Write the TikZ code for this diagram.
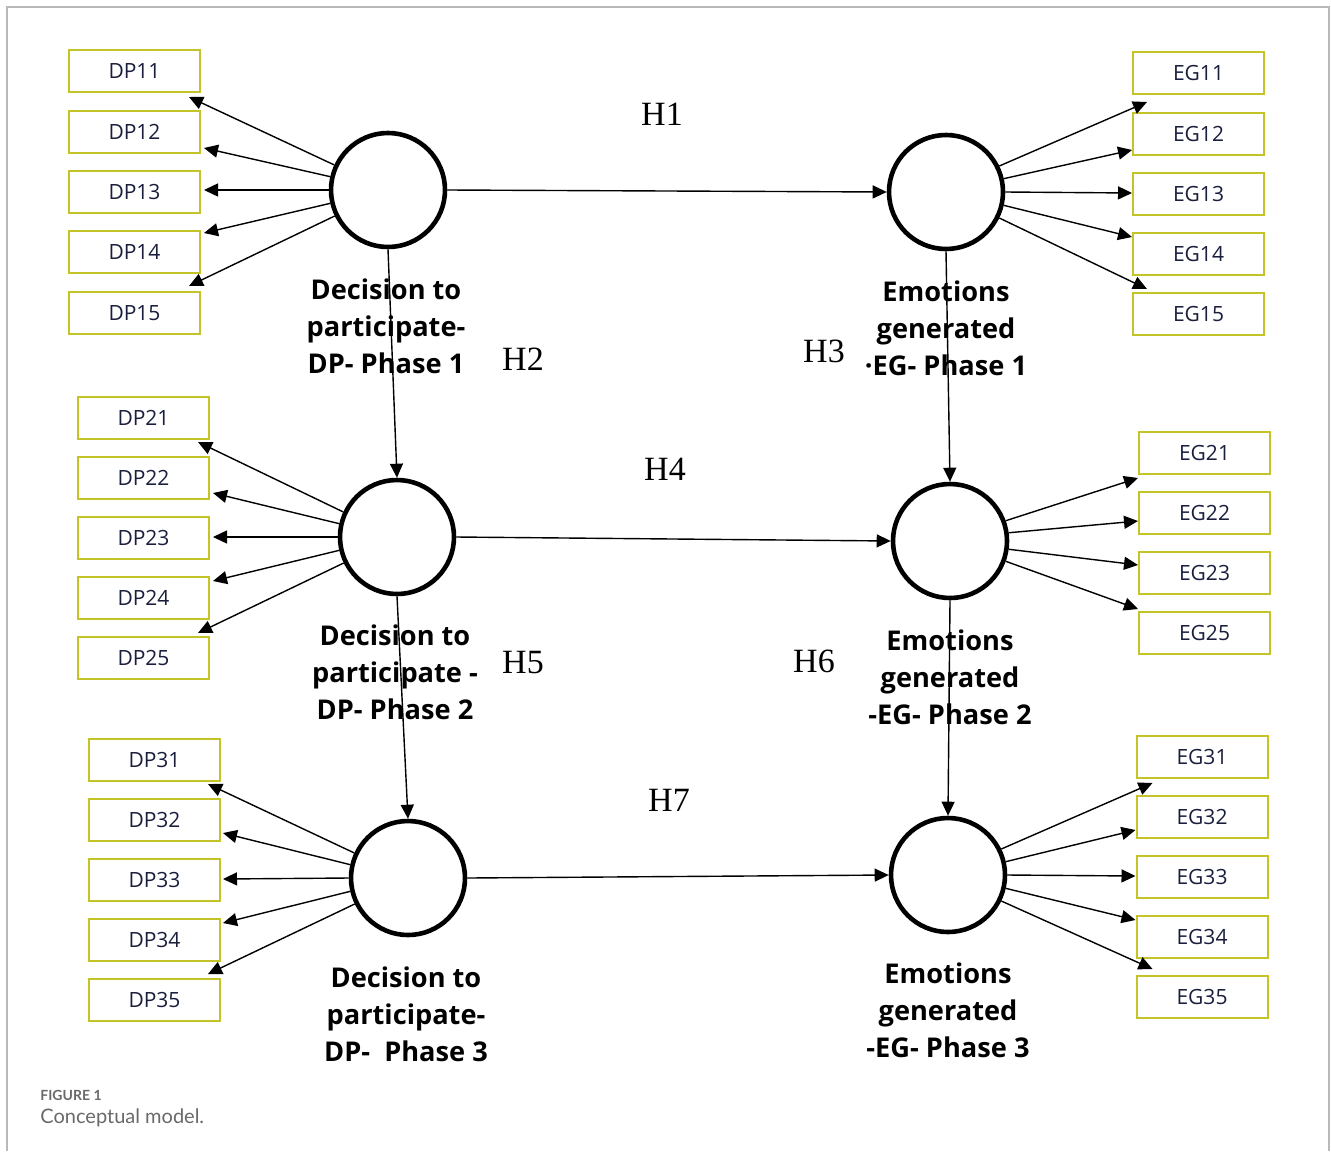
\documentclass[tikz,border=0pt]{standalone}
\usepackage{fontspec}
\setmainfont{Open Sans}
\newfontfamily\hfont{Liberation Serif}
\newfontfamily\capfont{Lato}
\usetikzlibrary{arrows.meta,calc}
\definecolor{boxc}{RGB}{196,196,40}
\definecolor{txtc}{RGB}{25,30,60}
\definecolor{framec}{RGB}{185,185,185}
\definecolor{capc}{RGB}{105,105,105}
\begin{document}
\begin{tikzpicture}[x=0.5pt,y=-0.5pt,
 obs/.style={draw=boxc,line width=1pt,minimum width=65.5pt,minimum height=21pt,inner sep=0pt,font=\fontsize{10.5}{12}\selectfont,text=txtc},
 lat/.style={circle,draw,line width=2.3pt,minimum size=57pt,inner sep=0pt},
 lbl/.style={align=center,font=\bfseries\fontsize{13.6}{18.5}\selectfont,text=black,inner sep=0pt},
 hyp/.style={font=\hfont\fontsize{17}{20}\selectfont,inner sep=0pt},
 arr/.style={line width=0.7pt,-{Triangle[length=7pt,width=6.5pt]}}]
\useasboundingbox (0,0) rectangle (1331,1151);
\draw[framec,line width=1pt] (7,1151) -- (7,7) -- (1329,7) -- (1329,1151);

% caption
\node[anchor=west,inner sep=0pt,text=capc,font=\capfont\bfseries\fontsize{7}{8}\selectfont] (figl) at (40,1095) {FIGURE 1};
\node[anchor=west,inner sep=0pt,text=capc,font=\capfont\fontsize{10}{12}\selectfont] (figc) at (40,1118) {Conceptual model.};

% latent variable labels
\node[lbl] (l1) at (386,326) {Decision to\\participate-\\DP- Phase 1};
\node[lbl] (l2) at (395,672) {Decision to\\participate -\\DP- Phase 2};
\node[lbl] (l3) at (406,1014) {Decision to\\participate-\\DP-\ \ Phase 3};
\node[lbl] (m1) at (946,328) {Emotions\\generated\\·EG- Phase 1};
\node[lbl] (m2) at (950,677) {Emotions\\generated\\-EG- Phase 2};
\node[lbl] (m3) at (948,1010) {Emotions\\generated\\-EG- Phase 3};

% hypothesis labels
\node[hyp] (h1) at (662,114) {H1};
\node[hyp] (h2) at (523,359) {H2};
\node[hyp] (h3) at (824,351) {H3};
\node[hyp] (h4) at (665,469) {H4};
\node[hyp] (h5) at (523,663) {H5};
\node[hyp] (h6) at (814,661) {H6};
\node[hyp] (h7) at (669,800) {H7};

% circles
\node[lat] (c1) at (388,190) {};
\node[lat] (c2) at (397,537) {};
\node[lat] (c3) at (408,878) {};
\node[lat] (e1) at (946,192) {};
\node[lat] (e2) at (950,541) {};
\node[lat] (e3) at (948,875) {};

% DP boxes
\node[obs] (dp11) at (134.5,71) {DP11};
\node[obs] (dp12) at (134.5,132) {DP12};
\node[obs] (dp13) at (134.5,192) {DP13};
\node[obs] (dp14) at (134.5,252) {DP14};
\node[obs] (dp15) at (134.5,313) {DP15};
\node[obs] (dp21) at (143.5,418) {DP21};
\node[obs] (dp22) at (143.5,478) {DP22};
\node[obs] (dp23) at (143.5,538) {DP23};
\node[obs] (dp24) at (143.5,598) {DP24};
\node[obs] (dp25) at (143.5,658) {DP25};
\node[obs] (dp31) at (154.5,760) {DP31};
\node[obs] (dp32) at (154.5,820) {DP32};
\node[obs] (dp33) at (154.5,880) {DP33};
\node[obs] (dp34) at (154.5,940) {DP34};
\node[obs] (dp35) at (154.5,1000) {DP35};
% EG boxes
\node[obs] (eg11) at (1198.5,73) {EG11};
\node[obs] (eg12) at (1198.5,134) {EG12};
\node[obs] (eg13) at (1198.5,194) {EG13};
\node[obs] (eg14) at (1198.5,254) {EG14};
\node[obs] (eg15) at (1198.5,314) {EG15};
\node[obs] (eg21) at (1204.5,453) {EG21};
\node[obs] (eg22) at (1204.5,513) {EG22};
\node[obs] (eg23) at (1204.5,573) {EG23};
\node[obs] (eg25) at (1204.5,633) {EG25};
\node[obs] (eg31) at (1202,757) {EG31};
\node[obs] (eg32) at (1202,817) {EG32};
\node[obs] (eg33) at (1202,877) {EG33};
\node[obs] (eg34) at (1202,937) {EG34};
\node[obs] (eg35) at (1202,997) {EG35};

% structural arrows
\draw[arr] (c1.east) -- (e1.west);
\draw[arr] (c2.east) -- (e2.west);
\draw[arr] (c3.east) -- (e3.west);
\draw[arr] (c1.south) -- (c2.north);
\draw[arr] (c2.south) -- (c3.north);
\draw[arr] (e1.south) -- (e2.north);
\draw[arr] (e2.south) -- (e3.north);

% DP1 indicators
\draw[arr] (c1.155) -- ($(dp11.south east)+(-12,4)$);
\draw[arr] (c1.167) -- ($(dp12.east)+(3,16)$);
\draw[arr] (c1.180) -- ($(dp13.east)+(3,-2)$);
\draw[arr] (c1.193) -- ($(dp14.east)+(3,-19)$);
\draw[arr] (c1.206) -- ($(dp15.north east)+(-12,-5)$);
% DP2 indicators
\draw[arr] (c2.155) -- ($(dp21.south east)+(-12,2)$);
\draw[arr] (c2.167) -- ($(dp22.east)+(3,15)$);
\draw[arr] (c2.180) -- ($(dp23.east)+(3,-1)$);
\draw[arr] (c2.193) -- ($(dp24.east)+(3,-17)$);
\draw[arr] (c2.206) -- ($(dp25.north east)+(-12,-3)$);
% DP3 indicators
\draw[arr] (c3.155) -- ($(dp31.south east)+(-13,2)$);
\draw[arr] (c3.167) -- ($(dp32.east)+(2,13)$);
\draw[arr] (c3.180) -- ($(dp33.east)+(2,-1)$);
\draw[arr] (c3.193) -- ($(dp34.east)+(2,-17)$);
\draw[arr] (c3.206) -- ($(dp35.north east)+(-13,-4)$);
% EG1 indicators
\draw[arr] (e1.26) -- ($(eg11.south west)+(15,7)$);
\draw[arr] (e1.13) -- ($(eg12.west)+(0,16)$);
\draw[arr] (e1.0) -- ($(eg13.west)+(0,-1)$);
\draw[arr] (e1.-13) -- ($(eg14.west)+(0,-17)$);
\draw[arr] (e1.-26) -- ($(eg15.north west)+(15,-3)$);
% EG2 indicators
\draw[arr] (e2.20) -- ($(eg21.south west)+(0,3)$);
\draw[arr] (e2.8) -- ($(eg22.west)+(0,8)$);
\draw[arr] (e2.-8) -- ($(eg23.west)+(0,-8)$);
\draw[arr] (e2.-20) -- ($(eg25.north west)+(0,-2)$);
% EG3 indicators
\draw[arr] (e3.26) -- ($(eg31.south west)+(17,4)$);
\draw[arr] (e3.13) -- ($(eg32.west)+(0,13)$);
\draw[arr] (e3.0) -- ($(eg33.west)+(0,-1)$);
\draw[arr] (e3.-13) -- ($(eg34.west)+(0,-17)$);
\draw[arr] (e3.-26) -- ($(eg35.north west)+(17,-6)$);
\end{tikzpicture}
\end{document}
